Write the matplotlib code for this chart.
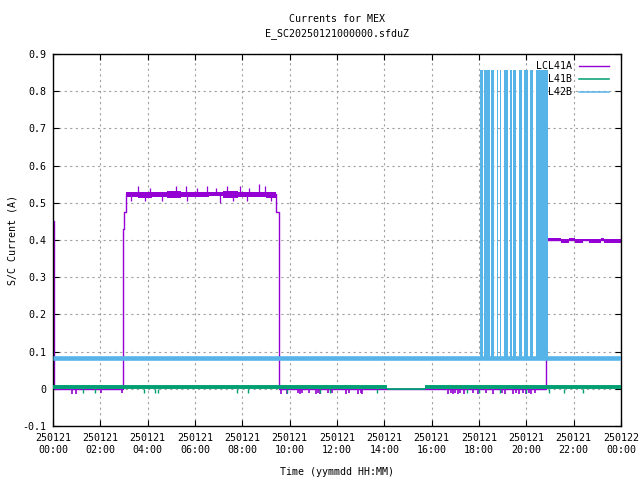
import numpy as np
import matplotlib.pyplot as plt

plt.rcParams['font.family'] = ['DejaVu Sans Mono']
plt.rcParams['font.size'] = 7.2

# x axis: hours since 250121 00:00
hour_ticks = [0, 2, 4, 6, 8, 10, 12, 14, 16, 18, 20, 22, 24]
hour_labels = ['250121\n00:00', '250121\n02:00', '250121\n04:00', '250121\n06:00',
               '250121\n08:00', '250121\n10:00', '250121\n12:00', '250121\n14:00',
               '250121\n16:00', '250121\n18:00', '250121\n20:00', '250121\n22:00',
               '250122\n00:00']
y_ticks = [-0.1, 0, 0.1, 0.2, 0.3, 0.4, 0.5, 0.6, 0.7, 0.8, 0.9]
y_labels = ['-0.1', '0', '0.1', '0.2', '0.3', '0.4', '0.5', '0.6', '0.7', '0.8', '0.9']

## LCL41A ##
a_t = [0.0, 0.06, 2.97, 3.01, 3.08, 9.43, 9.53, 20.83, 24.0]
a_v = [0.45, 0.0, 0.43, 0.475, 0.523, 0.475, 0.0, 0.40, 0.40]
# noisy plateau envelope
a_band_t = [3.08, 3.6, 4.2, 4.8, 5.4, 6.0, 6.6, 7.2, 7.8, 8.4, 9.0, 9.43]
a_band_lo = [0.516, 0.514, 0.516, 0.513, 0.516, 0.515, 0.517, 0.514, 0.516, 0.515, 0.514, 0.514]
a_band_hi = [0.530, 0.528, 0.529, 0.531, 0.528, 0.530, 0.529, 0.531, 0.529, 0.530, 0.529, 0.529]
a_spike_t = [3.3, 3.6, 3.9, 4.1, 4.6, 5.2, 5.6, 5.65, 6.1, 6.5, 6.9, 7.05, 7.35, 7.6, 7.9,
             8.2, 8.3, 8.7, 8.95, 9.2]
a_spike_v = [0.505, 0.545, 0.505, 0.54, 0.505, 0.545, 0.545, 0.505, 0.54, 0.545, 0.54,
             0.50, 0.545, 0.505, 0.545, 0.505, 0.54, 0.55, 0.545, 0.505]
a_late_t = [20.83, 21.45, 21.8, 22.05, 22.4, 22.65, 23.15, 23.3, 24.0]
a_late_lo = [0.397, 0.393, 0.397, 0.393, 0.397, 0.393, 0.397, 0.393, 0.393]
a_late_hi = [0.405, 0.402, 0.405, 0.402, 0.404, 0.402, 0.405, 0.402, 0.402]
a_dip_t = [0.79, 0.97, 2.03, 2.9, 9.62, 9.9, 10.35, 10.42, 10.5, 10.8, 11.1, 11.2, 11.3,
           11.6, 11.8, 12.4, 12.5, 12.9, 13.0, 13.05, 16.7, 16.8, 16.9, 17.0, 17.1, 17.2,
           17.35, 17.75, 17.95, 18.3, 18.6, 18.97, 19.1, 19.45, 19.55, 19.7, 19.85, 20.0,
           20.1, 20.2, 20.35]
a_dip_v = [-0.014, -0.014, -0.012, -0.012, -0.014, -0.014, -0.012, -0.014, -0.012, -0.01,
           -0.014, -0.012, -0.014, -0.012, -0.01, -0.014, -0.012, -0.014, -0.012, -0.014,
           -0.014, -0.012, -0.014, -0.012, -0.014, -0.012, -0.014, -0.012, -0.014, -0.012,
           -0.014, -0.012, -0.014, -0.014, -0.012, -0.014, -0.012, -0.014, -0.012, -0.014,
           -0.012]

## LCL41B ##
b_seg_start = [0.0, 15.72]
b_seg_end = [14.1, 24.0]
b_level = 0.0035
b_gap_level = 0.0
b_dip_t = [1.27, 1.77, 3.85, 4.3, 4.45, 7.77, 8.24, 9.88, 11.28, 11.7, 13.7, 17.5, 18.0,
           18.9, 20.0, 20.95, 21.6, 22.4]
b_dip_v = [-0.01, -0.01, -0.01, -0.012, -0.01, -0.01, -0.01, -0.01, -0.01, -0.01, -0.01,
           -0.01, -0.01, -0.01, -0.01, -0.01, -0.01, -0.01]

## LCL42B ##
c_level = 0.083
c_high = 0.857
c_hi_start = [18.04, 18.21, 18.51, 18.76, 18.89, 19.05, 19.31, 19.44, 19.69, 19.90, 20.15, 20.41]
c_hi_end = [18.19, 18.46, 18.63, 18.80, 18.93, 19.22, 19.39, 19.56, 19.82, 20.07, 20.28, 20.91]

purple = '#9400d3'
green = '#009e73'
blue = '#56b4e9'

fig = plt.figure(figsize=(6.4, 4.8), dpi=100)
ax = fig.add_axes([53 / 640, 1 - 426 / 480, 568 / 640, 372 / 480])

# LCL41A
ax.plot(a_t, a_v, color=purple, lw=1.0, drawstyle='steps-post', label='LCL41A', zorder=2)
ax.fill_between(a_band_t, a_band_lo, a_band_hi, step='post', color=purple, lw=0, zorder=2)
ax.fill_between(a_late_t, a_late_lo, a_late_hi, step='post', color=purple, lw=0, zorder=2)
ax.vlines(a_spike_t, 0.523, a_spike_v, color=purple, lw=0.9, zorder=2)
ax.vlines(a_dip_t, 0.0, a_dip_v, color=purple, lw=1.2, zorder=2)

# LCL41B
ax.hlines([b_level] * len(b_seg_start), b_seg_start, b_seg_end, color=green, lw=2.8, zorder=3)
ax.hlines(b_gap_level, b_seg_end[0], b_seg_start[1], color=green, lw=1.3, zorder=3)
ax.vlines(b_dip_t, 0.0, b_dip_v, color=green, lw=1.0, zorder=3)
ax.plot([], [], color=green, lw=1.1, label='LCL41B')

# LCL42B
ax.hlines(c_level, 0, 24, color=blue, lw=3.3, zorder=4)
for s, e in zip(c_hi_start, c_hi_end):
    ax.fill_between([s, e], c_level, c_high, color=blue, lw=0, zorder=4)
ax.plot([], [], color=blue, lw=1.1, label='LCL42B')

ax.set_xlim(0, 24)
ax.set_ylim(-0.1, 0.9)
ax.set_xticks(hour_ticks)
ax.set_xticklabels(hour_labels)
ax.set_yticks(y_ticks)
ax.set_yticklabels(y_labels)
ax.tick_params(direction='in', length=4.5, width=0.8, top=True, right=True, pad=5)
ax.grid(True, color='#a0a0a0', lw=0.8, linestyle=(0, (2, 3)))
ax.set_axisbelow(True)
for sp in ax.spines.values():
    sp.set_linewidth(1.0)

ax.set_title('Currents for MEX\nE_SC20250121000000.sfduZ', fontsize=7.2, pad=13, linespacing=1.5)
ax.set_xlabel('Time (yymmdd HH:MM)', labelpad=9)
ax.set_ylabel('S/C Current (A)', labelpad=3)

leg = ax.legend(loc='upper right', bbox_to_anchor=(1 - 6 / 568, 0.997), markerfirst=False,
                frameon=False, handlelength=3.0, handletextpad=0.7, labelspacing=0.3,
                fontsize=7.2, borderaxespad=0.2)
leg.set_zorder(1)

fig.savefig('out.png', dpi=100)
